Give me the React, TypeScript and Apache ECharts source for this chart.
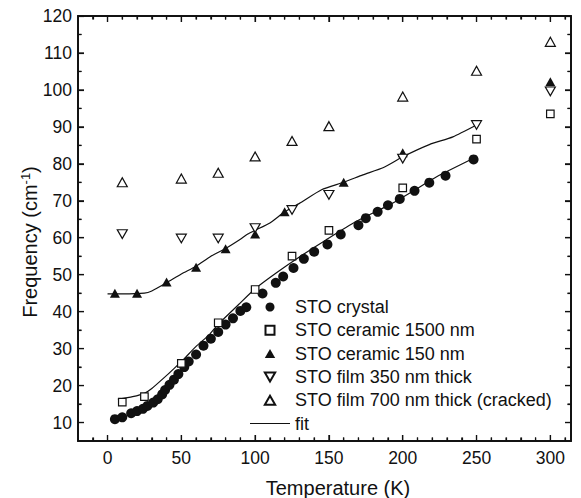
import React, { useEffect, useRef } from "react";
import * as echarts from "echarts";

// ---- Data ----
const crystalT = [5, 10, 16, 20, 24, 27, 31, 34, 37, 39, 42, 45, 48, 52, 55, 60, 65, 70, 75, 80, 85, 90, 94, 105, 114, 119, 126, 133, 140, 149, 158, 170, 175, 183, 190, 198, 208, 218, 229, 248];
const crystalF = [10.9, 11.4, 12.5, 13.1, 13.7, 14.5, 15.4, 16.3, 17.6, 18.8, 20.2, 21.6, 23.1, 25.0, 26.5, 28.4, 30.8, 32.7, 34.5, 36.5, 38.2, 40.2, 41.2, 44.9, 47.8, 49.5, 51.8, 54.3, 56.2, 58.2, 60.9, 63.4, 65.3, 67.0, 68.8, 70.5, 72.7, 74.9, 76.8, 81.2];

const ceramic1500T = [10, 25, 50, 75, 100, 125, 150, 200, 250, 300];
const ceramic1500F = [15.5, 17, 26, 37, 46, 55, 62, 73.5, 86.7, 93.5];

const ceramic150T = [5, 20, 40, 60, 80, 100, 120, 160, 200, 300];
const ceramic150F = [45, 45, 48, 52, 57, 61, 67, 75, 83, 102.2];

const film350T = [10, 50, 75, 100, 125, 150, 200, 250, 300];
const film350F = [61, 59.8, 59.8, 62.6, 67.5, 71.6, 81.4, 90.5, 99.6];

const film700T = [10, 50, 75, 100, 125, 150, 200, 250, 300];
const film700F = [75, 76, 77.6, 82, 86.2, 90.2, 98.2, 105.2, 113];

const fitUpperT = [0, 10, 25, 30, 40, 50, 60, 70, 80, 90, 95, 100, 110, 120, 130, 145, 160, 173, 187, 200, 218, 234, 250];
const fitUpperF = [44.8, 44.8, 45, 45.6, 47.8, 50.2, 52.3, 55, 57.1, 59.6, 61, 62, 64, 67, 69.3, 73, 75, 77, 79, 81.9, 85.2, 87.3, 90.5];

const fitLowerT = [7, 17, 25, 30, 38, 45, 52, 60, 69, 75, 89, 100, 114, 130, 148, 168, 191, 211, 223, 248];
const fitLowerF = [16.3, 17, 17.9, 19.2, 22, 24.6, 27.3, 30.6, 33.8, 36.6, 42, 46.2, 50.4, 54.8, 59.4, 64.3, 68.9, 73.6, 76.5, 81.5];

// ---- Axis tick labels / tick positions ----
const xRange = [-20, 314];
const yRange = [5, 120];
const xMajor = [0, 50, 100, 150, 200, 250, 300];
const xMinor = [-10, 10, 20, 30, 40, 60, 70, 80, 90, 110, 120, 130, 140, 160, 170, 180, 190, 210, 220, 230, 240, 260, 270, 280, 290, 310];
const yMajor = [10, 20, 30, 40, 50, 60, 70, 80, 90, 100, 110, 120];
const yMinor = [15, 25, 35, 45, 55, 65, 75, 85, 95, 105, 115];

const names = [
  "STO crystal",
  "STO ceramic 1500 nm",
  "STO ceramic 150 nm",
  "STO film 350 nm thick",
  "STO film 700 nm thick (cracked)",
  "fit",
];

const FONT = "'Liberation Sans', Arial, Helvetica, sans-serif";
const INK = "#111";

const zip = (a: number[], b: number[]) => a.map((v, i) => [v, b[i]]);

function xAxisDef(position: "top" | "bottom", ticks: number[], len: number, showLabel: boolean, showLine: boolean) {
  return {
    type: "value",
    min: xRange[0],
    max: xRange[1],
    position,
    axisLine: { show: showLine, onZero: false, lineStyle: { color: INK, width: 1.5 } },
    axisTick: { show: true, inside: true, length: len, customValues: ticks, lineStyle: { color: INK, width: 1.2 } },
    axisLabel: {
      show: showLabel,
      customValues: xMajor,
      margin: 8,
      color: INK,
      fontSize: 17.5,
      fontFamily: FONT,
    },
    splitLine: { show: false },
  };
}

function yAxisDef(position: "left" | "right", ticks: number[], len: number, showLabel: boolean, showLine: boolean) {
  return {
    type: "value",
    min: yRange[0],
    max: yRange[1],
    position,
    axisLine: { show: showLine, onZero: false, lineStyle: { color: INK, width: 1.5 } },
    axisTick: { show: true, inside: true, length: len, customValues: ticks, lineStyle: { color: INK, width: 1.2 } },
    axisLabel: {
      show: showLabel,
      customValues: yMajor,
      margin: 6,
      color: INK,
      fontSize: 17.5,
      fontFamily: FONT,
    },
    splitLine: { show: false },
  };
}

const openStyle = { color: "#fff", borderColor: INK, borderWidth: 1.2, opacity: 1 };
const filledStyle = { color: INK, borderColor: INK, borderWidth: 0, opacity: 1 };
const downTri = "path://M0,0L10,0L5,8.7Z";
const upTri = "path://M5,0L10,8.7L0,8.7Z";
const square = "path://M0,0L10,0L10,10L0,10Z";
const fitIcon = "path://M0,0L40,0L40,1.2L0,1.2Z";

const titleGraphics = [
  {
    type: "text",
    x: 30,
    y: 242,
    rotation: Math.PI / 2,
    style: {
      text: "{a|Frequency (cm}{s|-1}{a|)}",
      align: "center",
      verticalAlign: "middle",
      fill: INK,
      rich: {
        a: { fontSize: 20, fontFamily: FONT, fill: INK, color: INK, lineHeight: 22 },
        s: { fontSize: 13, fontFamily: FONT, fill: INK, color: INK, padding: [0, 0, 9, 0] },
      },
    },
  },
  {
    type: "text",
    x: 338,
    y: 488,
    style: {
      text: "Temperature (K)",
      align: "center",
      verticalAlign: "middle",
      fill: INK,
      fontSize: 20,
      fontFamily: FONT,
    },
  },
];

export default function App() {
  const ref = useRef<HTMLDivElement>(null);

  useEffect(() => {
    if (!ref.current) return;
    const chart = echarts.init(ref.current, null, { renderer: "svg" });
    chart.setOption({
      animation: false,
      grid: { left: 78, right: 10, top: 16, bottom: 57, show: true, borderColor: INK, borderWidth: 1.5 },
      xAxis: [
        xAxisDef("bottom", xMajor, 6, true, true),
        xAxisDef("bottom", xMinor, 3.5, false, false),
        xAxisDef("top", xMajor, 6, false, true),
        xAxisDef("top", xMinor, 3.5, false, false),
      ],
      yAxis: [
        yAxisDef("left", yMajor, 6, true, true),
        yAxisDef("left", yMinor, 3.5, false, false),
        yAxisDef("right", yMajor, 6, false, true),
        yAxisDef("right", yMinor, 3.5, false, false),
      ],
      legend: {
        orient: "vertical",
        left: 250,
        top: 298,
        padding: 0,
        itemWidth: 40,
        itemHeight: 9,
        itemGap: 5.3,
        symbolKeepAspect: true,
        textStyle: { fontSize: 18, color: INK, fontFamily: FONT, lineHeight: 18 },
        data: [
          { name: names[0], icon: "circle" },
          { name: names[1], icon: square },
          { name: names[2], icon: upTri },
          { name: names[3], icon: downTri },
          { name: names[4], icon: upTri },
          { name: names[5], icon: fitIcon, itemStyle: { color: INK, borderWidth: 0 } },
        ],
      },
      graphic: titleGraphics,
      series: [
        {
          name: "fit",
          type: "line",
          data: zip(fitUpperT, fitUpperF),
          symbol: "none",
          smooth: 0.2,
          lineStyle: { color: INK, width: 1.2 },
          itemStyle: { color: INK },
          z: 1,
        },
        {
          name: "fit",
          type: "line",
          data: zip(fitLowerT, fitLowerF),
          symbol: "none",
          smooth: 0.2,
          lineStyle: { color: INK, width: 1.2 },
          itemStyle: { color: INK },
          z: 1,
        },
        {
          name: names[0],
          type: "scatter",
          data: zip(crystalT, crystalF),
          symbol: "circle",
          symbolSize: 10,
          itemStyle: filledStyle,
          z: 3,
        },
        {
          name: names[1],
          type: "scatter",
          data: zip(ceramic1500T, ceramic1500F),
          symbol: "rect",
          symbolSize: 7.5,
          itemStyle: openStyle,
          z: 3,
        },
        {
          name: names[2],
          type: "scatter",
          data: zip(ceramic150T, ceramic150F),
          symbol: "triangle",
          symbolSize: [10, 9],
          itemStyle: filledStyle,
          z: 3,
        },
        {
          name: names[3],
          type: "scatter",
          data: zip(film350T, film350F),
          symbol: downTri,
          symbolSize: [10, 8.7],
          itemStyle: openStyle,
          z: 3,
        },
        {
          name: names[4],
          type: "scatter",
          data: zip(film700T, film700F),
          symbol: "triangle",
          symbolSize: [10, 9],
          itemStyle: openStyle,
          z: 3,
        },
      ],
    });

    // Frame and ticks positioned through the chart's own scales
    try {
      const px = (v: number) => Number(chart.convertToPixel({ xAxisIndex: 0 }, v));
      const py = (v: number) => Number(chart.convertToPixel({ yAxisIndex: 0 }, v));
      const L = px(xRange[0]);
      const R = px(xRange[1]);
      const T = py(yRange[1]);
      const B = py(yRange[0]);
      if ([L, R, T, B].every((n) => isFinite(n))) {
        const lineStyle = { stroke: INK, lineWidth: 1.2 };
        const extra: any[] = [
          {
            type: "rect",
            silent: true,
            z: 10,
            shape: { x: L, y: T, width: R - L, height: B - T },
            style: { fill: "none", stroke: INK, lineWidth: 1.5 },
          },
        ];
        const addX = (vals: number[], len: number) =>
          vals.forEach((v) => {
            const x = px(v);
            extra.push({ type: "line", silent: true, z: 10, shape: { x1: x, y1: B, x2: x, y2: B - len }, style: lineStyle });
            extra.push({ type: "line", silent: true, z: 10, shape: { x1: x, y1: T, x2: x, y2: T + len }, style: lineStyle });
          });
        const addY = (vals: number[], len: number) =>
          vals.forEach((v) => {
            const y = py(v);
            extra.push({ type: "line", silent: true, z: 10, shape: { x1: L, y1: y, x2: L + len, y2: y }, style: lineStyle });
            extra.push({ type: "line", silent: true, z: 10, shape: { x1: R, y1: y, x2: R - len, y2: y }, style: lineStyle });
          });
        addX(xMajor, 6);
        addX(xMinor, 3.5);
        addY(yMajor, 6);
        addY(yMinor, 3.5);
        chart.setOption({ graphic: [...titleGraphics, ...extra] });
      }
    } catch (e) {
      // keep the chart as drawn
    }

    return () => chart.dispose();
  }, []);

  return <div ref={ref} style={{ width: 581, height: 498, marginLeft: -8, marginTop: -8 }} />;
}
